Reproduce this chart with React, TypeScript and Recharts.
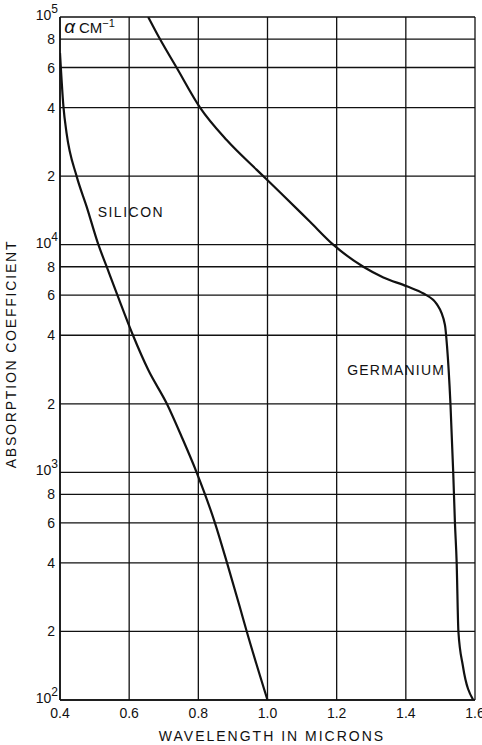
import { CartesianGrid, Line, LineChart, ReferenceDot, XAxis, YAxis, Label } from "recharts";

// silicon: wavelength (microns) vs absorption coefficient (cm^-1)
const siliconX = [0.4, 0.41, 0.419, 0.448, 0.477, 0.511, 0.535, 0.566, 0.611, 0.655, 0.709, 0.752, 0.795, 0.848, 0.883, 0.92, 0.94, 1.0];
const siliconY = [69500, 40300, 30900, 20000, 14700, 10000, 8000, 6000, 4000, 2820, 2000, 1430, 1000, 600, 400, 256, 200, 100];

const germaniumX = [0.655, 0.689, 0.737, 0.805, 0.882, 0.969, 1.036, 1.123, 1.19, 1.277, 1.335, 1.403, 1.451, 1.489, 1.513, 1.519, 1.529, 1.537, 1.542, 1.547, 1.552, 1.565, 1.595];
const germaniumY = [100000, 80000, 60000, 40000, 28800, 21300, 17000, 12600, 10000, 8000, 7180, 6560, 6100, 5490, 4450, 3600, 2000, 1000, 600, 400, 200, 141, 100];

const xTicks = [0.4, 0.6, 0.8, 1.0, 1.2, 1.4, 1.6];
const yTicks = [100, 200, 400, 600, 800, 1000, 2000, 4000, 6000, 8000, 10000, 20000, 40000, 60000, 80000, 100000];

const silicon = siliconX.map((x, i) => ({ x, y: siliconY[i] }));
const germanium = germaniumX.map((x, i) => ({ x, y: germaniumY[i] }));

const FONT = "'Liberation Sans', Arial, sans-serif";
const INK = "#111";

function YTick({ x, y, payload }: any) {
  const v = payload.value;
  const e = Math.floor(Math.log10(v) + 1e-9);
  const pow = Math.pow(10, e);
  if (Math.abs(v - pow) < 1e-6) {
    return (
      <text x={x + 6} y={y + 3} textAnchor="end" fontFamily={FONT} fontSize={14} fill={INK}>
        10
        <tspan dy={-7} fontSize={12}>
          {e}
        </tspan>
      </text>
    );
  }
  return (
    <text x={x + 3} y={y + 5} textAnchor="end" fontFamily={FONT} fontSize={14} fill={INK}>
      {Math.round(v / pow)}
    </text>
  );
}

function XTick({ x, y, payload }: any) {
  return (
    <text x={x} y={y + 10} textAnchor="middle" fontFamily={FONT} fontSize={14} fill={INK}>
      {payload.value.toFixed(1)}
    </text>
  );
}

const note = (text: string, spacing: number) => (props: any) => (
  <text x={props.cx} y={props.cy + 5} textAnchor="middle" fontFamily={FONT} fontSize={14} fill={INK} letterSpacing={spacing}>
    {text}
  </text>
);

function AlphaNote(props: any) {
  return (
    <text x={props.cx} y={props.cy + 5} fontFamily={FONT} fontSize={15} fill={INK}>
      <tspan fontSize={19} fontStyle="italic">α</tspan>
      <tspan dx={4}>CM</tspan>
      <tspan dy={-6} fontSize={11}>−1</tspan>
    </text>
  );
}

export default function App() {
  return (
    <div style={{ position: "absolute", left: 0, top: 0, background: "#fff" }}>
      <LineChart width={482} height={745} margin={{ top: 17, right: 7, bottom: 15, left: 0 }}>
        <CartesianGrid stroke={INK} strokeWidth={1.3} />
        <XAxis
          type="number"
          dataKey="x"
          domain={[0.4, 1.6]}
          ticks={xTicks}
          interval={0}
          tick={<XTick />}
          tickLine={false}
          height={30}
          axisLine={{ stroke: INK, strokeWidth: 1.6 }}
          allowDataOverflow
        >
          <Label
            content={() => (
              <text x={272} y={741} textAnchor="middle" fontFamily={FONT} fontSize={14} fill={INK} letterSpacing={2}>
                WAVELENGTH IN MICRONS
              </text>
            )}
          />
        </XAxis>
        <YAxis
          type="number"
          dataKey="y"
          scale="log"
          domain={[100, 100000]}
          ticks={yTicks}
          interval={0}
          tick={<YTick />}
          tickLine={false}
          width={60}
          axisLine={{ stroke: INK, strokeWidth: 1.6 }}
          allowDataOverflow
        >
          <Label
            content={() => (
              <text
                x={16}
                y={354}
                transform="rotate(-90 16 354)"
                textAnchor="middle"
                fontFamily={FONT}
                fontSize={14}
                fill={INK}
                letterSpacing={1.8}
              >
                ABSORPTION COEFFICIENT
              </text>
            )}
          />
        </YAxis>
        <Line
          data={silicon}
          dataKey="y"
          type="monotone"
          stroke={INK}
          strokeWidth={2.2}
          dot={false}
          isAnimationActive={false}
        />
        <Line
          data={germanium}
          dataKey="y"
          type="monotone"
          stroke={INK}
          strokeWidth={2.2}
          dot={false}
          isAnimationActive={false}
        />
        <ReferenceDot x={0.605} y={13900} r={0} shape={note("SILICON", 1.5)} />
        <ReferenceDot x={1.372} y={2820} r={0} shape={note("GERMANIUM", 1.2)} />
        <ReferenceDot x={0.412} y={89600} r={0} shape={AlphaNote} />
      </LineChart>
    </div>
  );
}
